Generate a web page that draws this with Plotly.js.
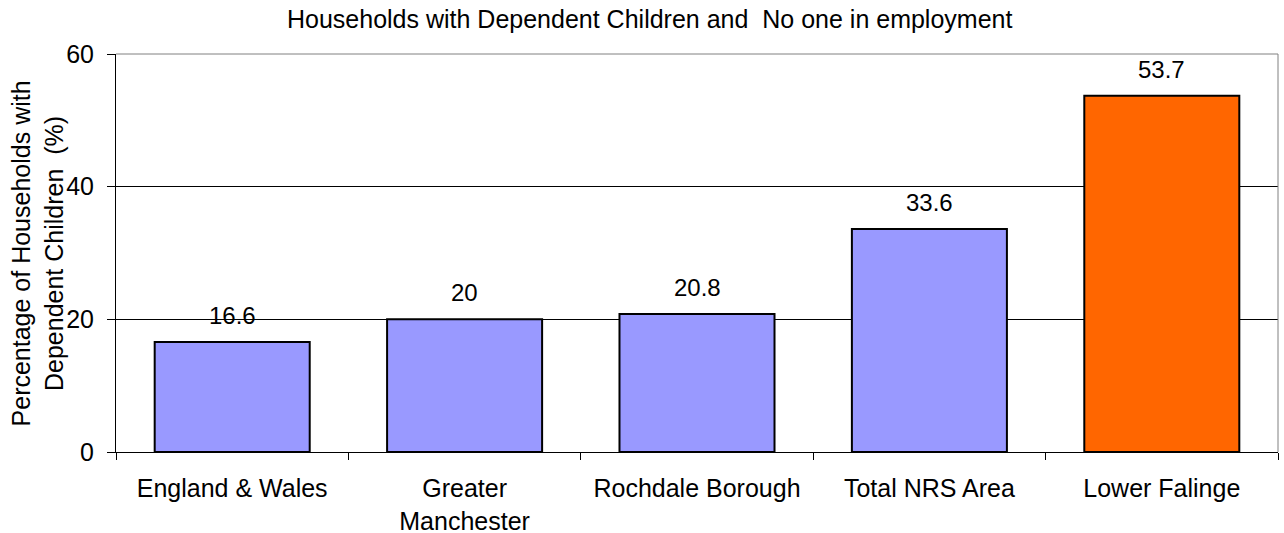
<!DOCTYPE html>
<html>
<head>
<meta charset="utf-8">
<script src="https://cdn.plot.ly/plotly-3.0.1.min.js"></script>
<style>html,body{margin:0;padding:0;background:#fff}#chart{width:1284px;height:533px}</style>
</head>
<body>
<div id="chart"></div>
<script>
const categories = ['England & Wales', 'Greater Manchester', 'Rochdale Borough', 'Total NRS Area', 'Lower Falinge'];
const tickLabels = ['England & Wales', 'Greater<br>Manchester', 'Rochdale Borough', 'Total NRS Area', 'Lower Falinge'];
const values = [16.6, 20, 20.8, 33.6, 53.7];
const valueLabels = ['16.6', '20', '20.8', '33.6', '53.7'];
const highlighted = 'Lower Falinge';
const yTicks = [0, 20, 40, 60];

const FONT = 'Liberation Sans, Arial, sans-serif';
const FS = 25;

const colors = categories.map(c => c === highlighted ? '#FF6600' : '#9999FF');

const trace = {
  type: 'bar',
  x: categories,
  y: values,
  marker: {color: colors, line: {color: '#000', width: 2}},
  hoverinfo: 'skip'
};

const annotations = categories.map((c, i) => ({
  x: c, y: values[i], xref: 'x', yref: 'y',
  text: valueLabels[i], showarrow: false,
  yanchor: 'bottom', xanchor: 'center', yshift: 11,
  font: {family: FONT, size: 24, color: '#000'}
}));
annotations.push({
  xref: 'paper', yref: 'paper', x: -0.0676, y: 0.5,
  xanchor: 'center', yanchor: 'middle', textangle: -90,
  text: 'Percentage of Households with<br>Dependent Children  (%)',
  showarrow: false, font: {family: FONT, size: FS, color: '#000'}
});

const layout = {
  width: 1284, height: 533,
  margin: {l: 116, r: 6, t: 54, b: 81},
  paper_bgcolor: '#fff', plot_bgcolor: '#fff',
  font: {family: FONT, size: FS, color: '#000'},
  showlegend: false,
  bargap: 0.333,
  title: {
    text: 'Households with Dependent Children and  No one in employment',
    xref: 'container', yref: 'container', x: 0.506, y: 0.963,
    xanchor: 'center', yanchor: 'middle',
    font: {family: FONT, size: FS, color: '#000'}
  },
  xaxis: {
    type: 'category',
    tickvals: categories, ticktext: tickLabels,
    tickson: 'boundaries', ticks: 'outside', ticklen: 7, tickcolor: '#000', tickwidth: 1,
    showline: true, linecolor: '#000', linewidth: 1,
    showgrid: false, zeroline: false,
    ticklabelstandoff: 14,
    tickfont: {family: FONT, size: FS, color: '#000'}
  },
  yaxis: {
    range: [0, 60], tickvals: yTicks,
    ticks: 'outside', ticklen: 8, tickcolor: '#000', tickwidth: 1,
    showline: true, linecolor: '#000', linewidth: 1,
    showgrid: true, gridcolor: '#000', gridwidth: 1,
    zeroline: false,
    ticklabelstandoff: 8,
    tickfont: {family: FONT, size: FS, color: '#000'}
  },
  shapes: [
    {type: 'line', xref: 'paper', yref: 'paper', x0: 0, x1: 1, y0: 1, y1: 1, line: {color: '#808080', width: 1}, layer: 'above'},
    {type: 'line', xref: 'paper', yref: 'paper', x0: 1, x1: 1, y0: 0, y1: 1, line: {color: '#808080', width: 1}, layer: 'above'}
  ],
  annotations: annotations
};

Plotly.newPlot('chart', [trace], layout, {displayModeBar: false, staticPlot: true});
</script>
</body>
</html>
